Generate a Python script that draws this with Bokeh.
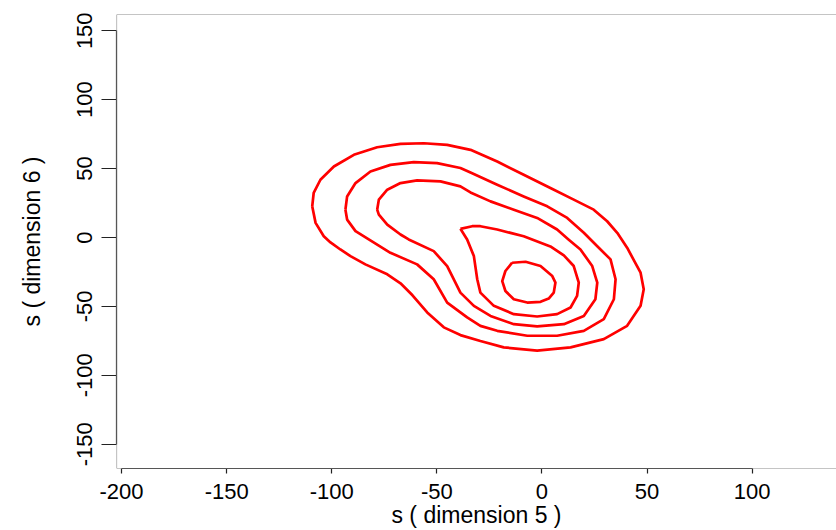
from bokeh.plotting import figure
from bokeh.models import Range1d, FixedTicker, Span
from bokeh.embed import file_html
from bokeh.resources import INLINE

# ---- data ----
x_ticks = [-200, -150, -100, -50, 0, 50, 100]
y_ticks = [-150, -100, -50, 0, 50, 100, 150]
x_title = "s ( dimension 5 )"
y_title = "s ( dimension 6 )"

# contour level 1 (outermost)
c1_x = [-109.3, -108.6, -105.4, -99.0, -89.5, -78.4, -67.3, -56.2, -45.1, -34.0,
        -21.3, -8.7, 4.0, 15.1, 24.6, 31.0, 35.8, 40.5, 44.0, 46.9,
        48.4, 46.9, 40.5, 29.4, 13.6, -2.3, -18.2, -29.3, -38.8, -46.7,
        -54.6, -61.6, -67.3, -73.6, -84.0, -91.1, -95.9, -100.6, -103.8, -107.7]
c1_y = [22.6, 32.3, 41.9, 51.5, 60.0, 65.5, 67.9, 68.4, 67.2, 63.6,
        55.1, 45.5, 35.9, 27.5, 20.2, 11.8, 3.4, -7.4, -17.3, -25.5,
        -37.6, -49.6, -64.1, -73.7, -79.7, -82.1, -79.7, -75.1, -70.8, -65.2,
        -54.4, -41.9, -33.2, -26.7, -19.5, -13.5, -8.7, -3.6, 0.9, 10.6]

# contour level 2
c2_x = [-93.5, -92.7, -88.7, -81.6, -72.1, -61.0, -49.9, -38.8, -34.0, -21.3,
        -8.7, 2.5, 12.0, 19.9, 26.3, 32.6, 35.0, 34.2, 29.4, 19.9,
        7.2, -7.0, -21.3, -29.3, -35.6, -45.1, -51.5, -59.4, -72.1, -82.4,
        -88.7, -92.7]
c2_y = [20.2, 29.8, 39.5, 47.9, 52.7, 54.7, 54.0, 50.4, 47.2, 38.3,
        29.8, 22.6, 14.2, 3.4, -6.3, -15.9, -30.3, -44.8, -59.2, -67.7,
        -71.3, -71.3, -67.7, -64.1, -58.0, -47.2, -30.3, -19.5, -11.1, -1.4,
        4.6, 13.0]

# contour level 3
c3_x = [-78.4, -77.6, -73.6, -67.3, -59.4, -48.3, -38.8, -34.0, -24.5, -13.4,
        -2.3, 7.2, 12.6, 18.3, 23.9, 26.3, 25.4, 19.9, 10.4, -2.3,
        -13.4, -24.5, -32.4, -38.8, -45.1, -51.5, -63.4, -67.3, -73.6, -77.6]
c3_y = [20.2, 27.5, 34.7, 39.5, 41.4, 40.7, 37.1, 32.7, 26.2, 20.2,
        14.2, 5.8, -1.4, -8.7, -20.7, -32.7, -44.8, -56.9, -62.9, -64.5,
        -62.9, -56.9, -49.6, -40.0, -20.7, -9.9, -1.4, 2.2, 9.4, 16.6]

# contour level 4 (tear-drop)
c4_x = [-38.8, -33.2, -29.3, -21.3, -8.7, 4.0, 10.4, 15.1, 17.5, 16.7,
        13.6, 7.2, -2.3, -13.4, -22.9, -29.3, -30.8, -32.4, -35.6]
c4_y = [6.3, 8.2, 8.2, 5.8, 0.9, -6.5, -13.0, -20.7, -32.7, -42.4,
        -50.8, -55.6, -57.3, -55.6, -49.6, -40.0, -30.3, -13.5, -1.4]

# contour level 5 (innermost)
c5_x = [-14.2, -7.8, -0.7, 4.9, 6.4, 5.6, 3.2, -0.7, -7.0, -13.4, -17.4, -18.9, -17.4]
c5_y = [-18.3, -17.6, -20.7, -28.0, -32.7, -40.0, -44.3, -46.7, -47.2, -44.8, -38.8, -31.6, -24.3]

contours_x = [c1_x, c2_x, c3_x, c4_x, c5_x]
contours_y = [c1_y, c2_y, c3_y, c4_y, c5_y]

X_START, X_END = -202.4, 140.1
Y_START, Y_END = -167.6, 161.8

FONT = "Liberation Sans"

p = figure(width=836, height=530,
           x_range=Range1d(X_START, X_END), y_range=Range1d(Y_START, Y_END),
           output_backend="svg", toolbar_location=None,
           min_border_left=116, min_border_right=0,
           min_border_top=14, min_border_bottom=60)

p.grid.visible = False
p.outline_line_color = None
p.background_fill_color = "white"
p.border_fill_color = "white"

for xs, ys in zip(contours_x, contours_y):
    p.line(xs + xs[:1], ys + ys[:1], line_color="#ff0000", line_width=2.7,
           line_join="round")

# box (grey) lines
for loc, dim in [(Y_END, "width"), (Y_START, "width"), (X_START, "height")]:
    p.add_layout(Span(location=loc, dimension=dim, line_color="#8a8a8a",
                      line_width=1.2))

xa = p.xaxis[0]
xa.ticker = FixedTicker(ticks=x_ticks)
xa.bounds = (x_ticks[0], x_ticks[-1])
xa.axis_label = x_title
xa.major_label_overrides = {t: str(t) for t in x_ticks}
ya = p.yaxis[0]
ya.ticker = FixedTicker(ticks=y_ticks)
ya.bounds = (y_ticks[0], y_ticks[-1])
ya.axis_label = y_title
ya.major_label_overrides = {t: str(t) for t in y_ticks}
ya.major_label_orientation = "vertical"

for ax in (xa, ya):
    ax.axis_line_color = "#222222"
    ax.axis_line_width = 1.2
    ax.major_tick_line_color = "#222222"
    ax.major_tick_line_width = 1.2
    ax.minor_tick_line_color = None
    ax.major_tick_in = 0
    ax.major_label_text_font = FONT
    ax.major_label_text_font_size = "22px"
    ax.major_label_text_color = "black"
    ax.axis_label_text_font = FONT
    ax.axis_label_text_font_size = "23px"
    ax.axis_label_text_font_style = "normal"
    ax.axis_label_text_color = "black"

xa.major_tick_out = 5
xa.major_label_standoff = 10
xa.axis_label_standoff = 0
ya.major_tick_out = 15
ya.major_label_standoff = 9
ya.axis_label_standoff = 30

open("out.html", "w").write(file_html(p, INLINE))
